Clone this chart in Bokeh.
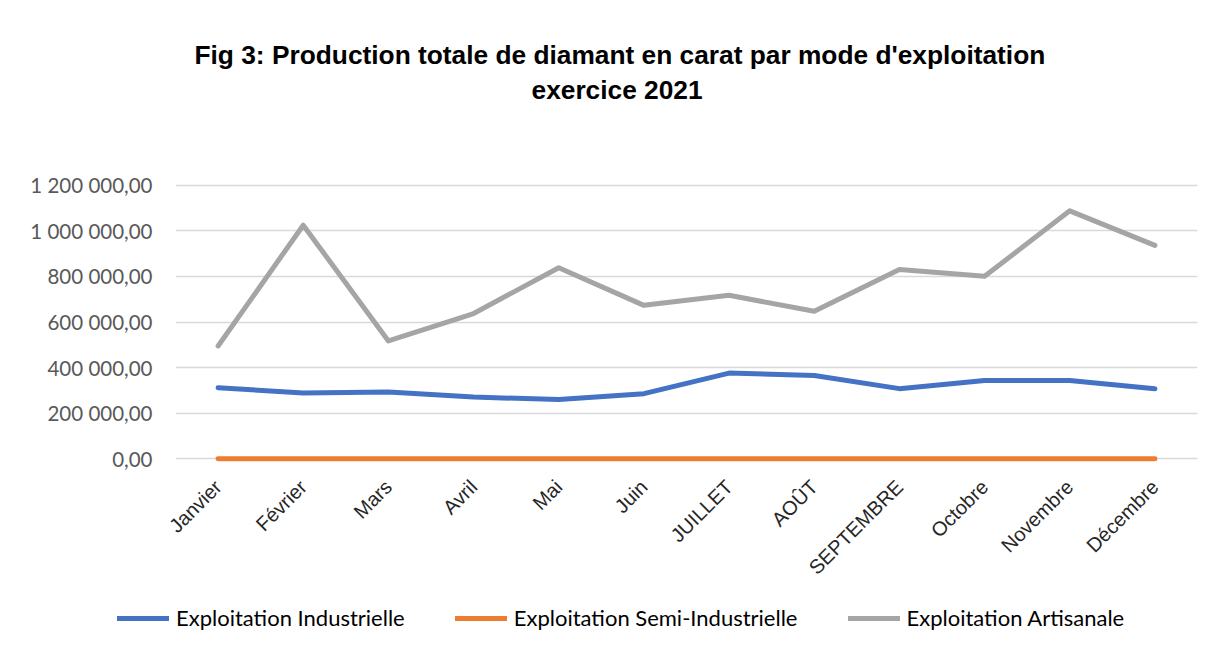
from bokeh.plotting import figure
from bokeh.layouts import column
from bokeh.models import (FactorRange, Range1d, FixedTicker, Title, Legend, LegendItem)
from bokeh.embed import file_html
from bokeh.resources import INLINE
import math

months = ["Janvier", "Février", "Mars", "Avril", "Mai", "Juin", "JUILLET", "AOÛT",
          "SEPTEMBRE", "Octobre", "Novembre", "Décembre"]
industrielle = [312000, 289000, 293000, 271000, 260000, 286000, 376000, 366000,
                308000, 344000, 344000, 308000]
semi_industrielle = [1200, 900, 1100, 800, 1000, 900, 1300, 1100, 900, 1000, 1200, 1000]
artisanale = [495000, 1024000, 517000, 637000, 838000, 673000, 717000, 647000,
              830000, 800000, 1087000, 936000]
series_names = ["Exploitation Industrielle", "Exploitation Semi-Industrielle",
                "Exploitation Artisanale"]
colors = ["#4472C4", "#ED7D31", "#A5A5A5"]
y_ticks = [0, 200000, 400000, 600000, 800000, 1000000, 1200000]
y_labels = ["0,00", "200 000,00", "400 000,00", "600 000,00", "800 000,00",
            "1 000 000,00", "1 200 000,00"]
title_lines = ["Fig 3: Production totale de diamant en carat par mode d'exploitation",
               "exercice 2021"]
series = [industrielle, semi_industrielle, artisanale]

p = figure(width=1214, height=594, output_backend="svg", toolbar_location=None,
           x_range=FactorRange(factors=months, range_padding=0),
           y_range=Range1d(-20000, 1220000),
           min_border_left=175, min_border_right=17, min_border_top=180,
           min_border_bottom=131)
p.frame_align = False
p.outline_line_color = None
p.background_fill_color = "white"
p.border_fill_color = "white"

# titles, stacked from the frame outwards: spacer, line 2, line 1
spacer = Title(text=" ", text_font_size="10px", standoff=60)
t2 = Title(text=title_lines[1], align="left", text_font="Liberation Sans",
           text_font_style="bold", text_font_size="26.3px", text_color="black",
           offset=356, standoff=6)
t1 = Title(text=title_lines[0], align="left", text_font="Liberation Sans",
           text_font_style="bold", text_font_size="26.3px", text_color="black",
           offset=19, standoff=0)
p.add_layout(spacer, "above")
p.add_layout(t2, "above")
p.add_layout(t1, "above")

for vals, c in zip(series, colors):
    p.line(x=months, y=vals, line_color=c, line_width=5,
           line_cap="round", line_join="round")

# axes
p.yaxis.ticker = FixedTicker(ticks=y_ticks)
p.yaxis.major_label_overrides = {t: l for t, l in zip(y_ticks, y_labels)}
p.yaxis.axis_line_color = None
p.yaxis.major_tick_line_color = None
p.yaxis.minor_tick_line_color = None
p.yaxis.major_label_text_font = "Lato"
p.yaxis.major_label_text_font_size = "20.5px"
p.yaxis.major_label_text_color = "#595959"
p.yaxis.major_label_standoff = 17

p.xaxis.axis_line_color = None
p.xaxis.major_tick_line_color = None
p.xaxis.minor_tick_line_color = None
p.xaxis.major_label_orientation = math.pi / 4
p.xaxis.major_label_text_font = "Liberation Sans"
p.xaxis.major_label_text_font_size = "20px"
p.xaxis.major_label_text_color = "#262626"
p.xaxis.major_label_standoff = 14

p.xgrid.grid_line_color = None
p.ygrid.ticker = FixedTicker(ticks=y_ticks)
p.ygrid.grid_line_color = "#d9d9d9"
p.ygrid.grid_line_width = 1.5

# legend strip below the chart (same series, drawn out of view; only the legend shows)
lg = figure(width=1214, height=55, output_backend="svg", toolbar_location=None,
            x_range=FactorRange(factors=months, range_padding=0),
            y_range=Range1d(2000000, 3000000),
            x_axis_location=None, y_axis_location=None,
            min_border=0, title=None)
lg.frame_align = False
lg.outline_line_color = None
lg.grid.visible = False
lg_renderers = []
for vals, c in zip(series, colors):
    lg_renderers.append(lg.line(x=months, y=vals, line_color=c, line_width=5,
                                line_cap="round", line_join="round"))
legend = Legend(items=[LegendItem(label=n, renderers=[r])
                       for n, r in zip(series_names, lg_renderers)],
                orientation="horizontal", location=(117, 18),
                glyph_width=52, glyph_height=20, label_standoff=7, spacing=50,
                label_text_font="Lato", label_text_font_size="22px",
                label_text_color="black", border_line_color=None,
                background_fill_alpha=0, padding=0, margin=0)
lg.add_layout(legend, "center")

layout = column(p, lg, spacing=0)
open("out.html", "w").write(file_html(layout, INLINE))
